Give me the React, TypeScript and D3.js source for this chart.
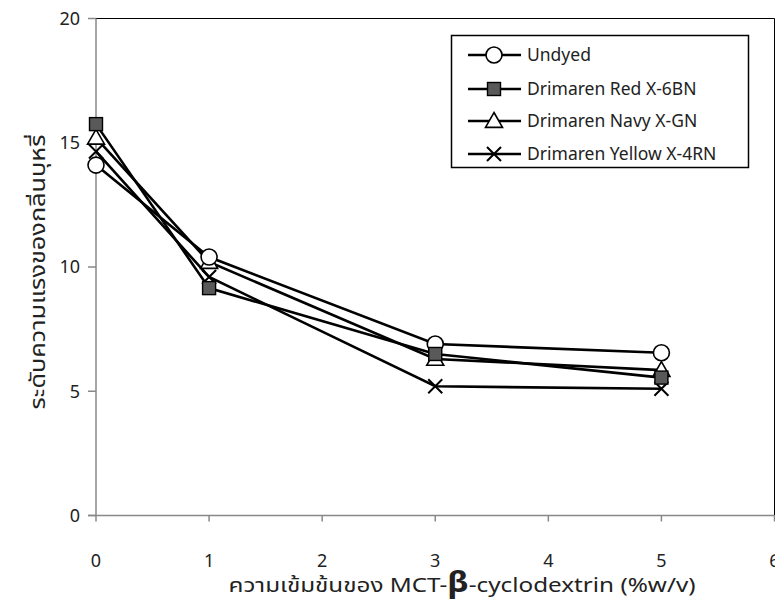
import React from "react";
import * as d3 from "d3";

const xValues = [0, 1, 3, 5];
const seriesNames = ["Undyed", "Drimaren Red X-6BN", "Drimaren Navy X-GN", "Drimaren Yellow X-4RN"];
const undyed = [14.1, 10.4, 6.9, 6.55];
const red = [15.75, 9.15, 6.5, 5.55];
const navy = [15.2, 10.2, 6.3, 5.85];
const yellow = [14.65, 9.6, 5.2, 5.1];
const xTicks = [0, 1, 2, 3, 4, 5, 6];
const yTicks = [0, 5, 10, 15, 20];
const markers = ["circle", "square", "triangle", "cross"];

const W = 775;
const H = 602;
const left = 96;
const right = 774.5;
const top = 18.5;
const bottom = 515.5;

const font = "'Noto Sans', 'Noto Sans Thai', sans-serif";

function Marker({ kind, cx, cy }: { kind: string; cx: number; cy: number }) {
  if (kind === "circle") {
    return <circle cx={cx} cy={cy} r={8} fill="#fff" stroke="#000" strokeWidth={1.6} />;
  }
  if (kind === "square") {
    return <rect x={cx - 6.5} y={cy - 6.5} width={13} height={13} fill="#595959" stroke="#000" strokeWidth={1.4} />;
  }
  if (kind === "triangle") {
    const s = 8.5;
    return (
      <path
        d={`M${cx},${cy - s}L${cx + s},${cy + s * 0.75}L${cx - s},${cy + s * 0.75}Z`}
        fill="#fff"
        stroke="#000"
        strokeWidth={1.6}
      />
    );
  }
  const s = 7;
  return (
    <path
      d={`M${cx - s},${cy - s}L${cx + s},${cy + s}M${cx - s},${cy + s}L${cx + s},${cy - s}`}
      stroke="#000"
      strokeWidth={2}
      fill="none"
    />
  );
}

export default function App() {
  const x = d3.scaleLinear().domain([0, 6]).range([left, right]);
  const y = d3.scaleLinear().domain([0, 20]).range([bottom, top]);
  const data = [undyed, red, navy, yellow];
  const line = d3
    .line<number>()
    .x((_, i) => x(xValues[i]))
    .y((d) => y(d));

  const legendX = 451.5;
  const legendY = 35.5;
  const legendRows = [55, 89, 121, 154];

  return (
    <svg width={W} height={H} style={{ position: "absolute", left: 0, top: 0, background: "#fff" }}>
      {/* plot border */}
      <line x1={left} x2={right} y1={top} y2={top} stroke="#000" strokeWidth={1} />
      <line x1={right} x2={right} y1={top} y2={bottom} stroke="#000" strokeWidth={1} />
      {/* axes */}
      <line x1={left} x2={left} y1={top} y2={bottom} stroke="#888" strokeWidth={1.5} />
      <line x1={left - 8} x2={right} y1={bottom} y2={bottom} stroke="#888" strokeWidth={1.5} />
      {yTicks.map((t) => (
        <g key={"y" + t}>
          <line x1={left - 8} x2={left} y1={y(t)} y2={y(t)} stroke="#888" strokeWidth={1.5} />
          <text x={left - 16} y={y(t)} dy="0.35em" textAnchor="end" fontFamily={font} fontSize={18} fill="#222">
            {t}
          </text>
        </g>
      ))}
      {xTicks.map((t) => (
        <g key={"x" + t}>
          <line x1={x(t)} x2={x(t)} y1={bottom} y2={bottom + 6} stroke="#888" strokeWidth={1.5} />
          <text x={x(t)} y={561} dy="0.35em" textAnchor="middle" fontFamily={font} fontSize={18} fill="#222">
            {t}
          </text>
        </g>
      ))}
      {/* series */}
      {data.map((vals, i) => (
        <path key={"l" + i} d={line(vals) || ""} fill="none" stroke="#000" strokeWidth={2.6} />
      ))}
      {[3, 2, 0, 1].map((i) =>
        data[i].map((v, j) => <Marker key={`m${i}-${j}`} kind={markers[i]} cx={x(xValues[j])} cy={y(v)} />)
      )}
      {/* legend */}
      <rect x={legendX} y={legendY} width={297} height={132} fill="#fff" stroke="#000" strokeWidth={1.5} />
      {seriesNames.map((name, i) => (
        <g key={"lg" + i}>
          <line x1={468} x2={521} y1={legendRows[i]} y2={legendRows[i]} stroke="#000" strokeWidth={2.6} />
          <Marker kind={markers[i]} cx={494} cy={legendRows[i]} />
          <text x={527} y={legendRows[i]} dy="0.35em" fontFamily={font} fontSize={17.5} fill="#222">
            {name}
          </text>
        </g>
      ))}
      {/* axis titles */}
      <text
        x={462}
        y={585}
        dy="0.35em"
        textAnchor="middle"
        fontFamily={font}
        fontSize={20}
        fill="#222"
        textLength={467}
        lengthAdjust="spacingAndGlyphs"
      >
        ความเข้มข้นของ MCT-<tspan fontSize={28} fontWeight="bold">β</tspan>-cyclodextrin (%w/v)
      </text>
      <text
        transform={`translate(38,${272}) rotate(-90)`}
        textAnchor="middle"
        dy="0.35em"
        fontFamily={font}
        fontSize={21}
        fill="#222"
        textLength={275}
        lengthAdjust="spacingAndGlyphs"
      >
        ระดับความแรงของกลิ่นบุหรี่
      </text>
    </svg>
  );
}
